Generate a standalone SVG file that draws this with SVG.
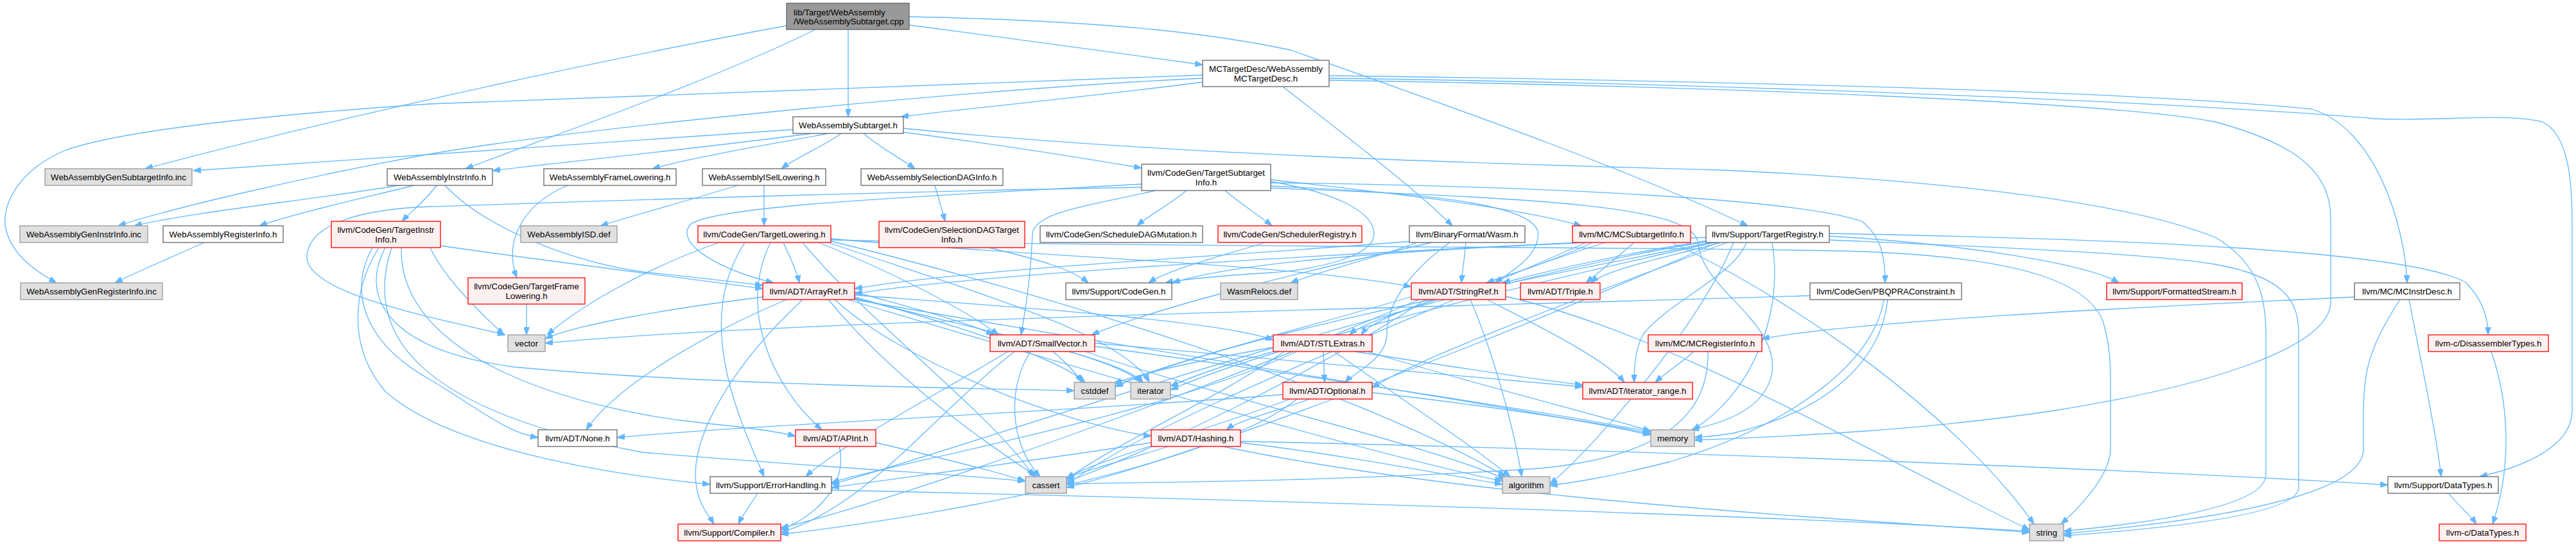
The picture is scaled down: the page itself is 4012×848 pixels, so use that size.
<svg xmlns="http://www.w3.org/2000/svg" width="4012" height="848" viewBox="0 0 4012 848">
<style>
.w{fill:#ffffff;stroke:#666666;stroke-width:1.3}
.r{fill:#fff0f0;stroke:#ff0000;stroke-width:1.3}
.g{fill:#e0e0e0;stroke:#999999;stroke-width:1.3}
.k{fill:#999999;stroke:#666666;stroke-width:1.3}
text{font-family:"Liberation Sans",Arial,Helvetica,sans-serif;font-size:13.33px;fill:#000000;text-anchor:middle}
text.s{text-anchor:start}
</style>
<defs>
<marker id="ah" viewBox="0 0 12 9" refX="12" refY="4.5" markerWidth="12" markerHeight="9" markerUnits="userSpaceOnUse" orient="auto"><path d="M0,0 L12,4.5 L0,9 z" fill="#63b8ff" stroke="#63b8ff" stroke-width="1"/></marker>
</defs>
<rect width="4012" height="848" fill="#ffffff"/>
<g id="connectors" fill="none" stroke="#63b8ff" stroke-width="1.3" marker-end="url(#ah)">
<path d="M1416,39 C1560,58 1730,81 1873,101"/>
<path d="M1321,46 L1321,182"/>
<path d="M1270,46 C1100,130 850,215 725,263"/>
<path d="M1225,40 C900,100 500,190 226,263"/>
<path d="M1416,26 C1750,33 1900,55 2010,78 C2300,180 2550,270 2722,352"/>
<path d="M1873,128 C1700,150 1500,170 1403,182"/>
<path d="M1873,117 C1300,140 900,150 670,162 C400,180 180,205 100,235 C20,270 0,330 10,360 C20,400 60,425 88,441"/>
<path d="M1873,122 C1500,140 900,200 670,240 C450,280 250,330 184,352"/>
<path d="M1998,135 C2080,200 2200,290 2262,352"/>
<path d="M2070,118 C2600,125 3300,140 3600,170 C3700,200 3745,350 3749,441"/>
<path d="M2070,122 C2700,130 3400,160 3700,185 C3800,190 3900,175 3960,190 C4000,210 4006,280 4006,350 L4006,640 C4006,700 3920,730 3862,743"/>
<path d="M2070,125 C2700,135 3300,160 3450,190 C3580,225 3630,270 3630,340 L3630,470 C3630,540 3450,600 3200,640 C3000,670 2800,680 2639,686"/>
<path d="M1235,202 C1000,220 700,240 301,266"/>
<path d="M1264,208 C1100,230 900,250 767,266"/>
<path d="M1290,208 C1200,225 1080,245 1016,263"/>
<path d="M1310,208 C1280,230 1240,245 1217,263"/>
<path d="M1345,208 C1370,230 1400,245 1425,263"/>
<path d="M1407,206 C1550,225 1680,245 1778,262"/>
<path d="M1407,200 C1800,240 2300,255 2680,265 C3000,280 3300,310 3450,370 C3520,410 3529,470 3529,520 L3529,740 C3529,790 3350,815 3214,828"/>
<path d="M620,289 C500,310 300,330 209,352"/>
<path d="M645,289 C560,310 450,335 404,352"/>
<path d="M680,289 C665,310 640,330 626,345"/>
<path d="M693,289 C760,360 900,410 1003,424 C1080,432 1150,440 1188,445"/>
<path d="M318,378 C270,400 210,425 179,441"/>
<path d="M884,289 C810,320 785,380 805,433"/>
<path d="M1149,289 C1080,310 990,335 935,352"/>
<path d="M1190,289 L1190,352"/>
<path d="M1456,289 C1462,310 1468,330 1472,345"/>
<path d="M1848,297 C1820,320 1790,335 1771,352"/>
<path d="M1908,297 C1935,320 1960,335 1981,352"/>
<path d="M1979,280 C2150,300 2350,320 2463,352"/>
<path d="M1979,285 C2400,290 2800,310 2900,345 C2930,370 2936,400 2936,441"/>
<path d="M1979,283 C2080,300 2140,330 2140,365 C2140,400 2050,420 1980,425 C1900,430 1840,435 1815,441"/>
<path d="M1979,290 C2200,300 2380,315 2395,360 C2400,395 2360,420 2328,441"/>
<path d="M1778,287 C1450,305 1110,320 1075,350 C1050,380 1120,420 1205,441"/>
<path d="M1778,292 C1300,300 900,315 670,322 C560,326 480,350 478,400 C476,460 700,500 787,522"/>
<path d="M1800,297 C1700,320 1610,330 1608,365 C1606,420 1600,470 1590,522"/>
<path d="M1979,293 C2400,310 2640,320 2645,380 C2650,450 2770,500 2760,580 C2750,640 2680,660 2634,670"/>
<path d="M686,383 C800,400 1000,425 1188,450"/>
<path d="M670,386 C690,430 740,480 785,522"/>
<path d="M580,386 C545,450 560,530 670,592 C750,640 790,675 838,682"/>
<path d="M590,386 C550,450 540,540 600,610 C700,700 950,740 1106,755"/>
<path d="M600,386 C560,460 600,545 800,572 C1100,600 1500,605 1673,609"/>
<path d="M610,386 C565,520 650,640 1000,705 C1300,730 1500,740 1597,750"/>
<path d="M625,386 C620,560 900,640 1100,660 C1180,668 1220,675 1239,680"/>
<path d="M820,474 L820,522"/>
<path d="M1120,378 C1000,420 900,480 852,522"/>
<path d="M1220,378 C1230,400 1240,420 1245,441"/>
<path d="M1275,378 C1380,420 1500,480 1555,522"/>
<path d="M1294,372 C1600,400 2000,410 2198,447"/>
<path d="M1200,378 C1150,480 1200,600 1280,670"/>
<path d="M1160,378 C1080,500 1150,650 1190,743"/>
<path d="M1294,376 C1600,450 2100,600 2345,743"/>
<path d="M1250,378 C1350,500 1550,650 1610,743"/>
<path d="M1290,378 C1500,450 1750,520 1790,596"/>
<path d="M1294,374 C1800,386 2600,384 2900,392 C3150,402 3250,440 3275,500 C3287,540 3287,570 3287,600 L3287,700 C3287,740 3240,790 3210,817"/>
<path d="M1540,386 C1620,405 1670,420 1695,441"/>
<path d="M1970,378 C1900,400 1820,420 1789,441"/>
<path d="M2207,378 C2150,400 2050,425 2010,441"/>
<path d="M2283,378 C2281,400 2278,420 2276,441"/>
<path d="M2200,376 C1900,400 1500,420 1331,450"/>
<path d="M2230,378 C2000,430 1800,480 1700,522"/>
<path d="M2258,378 C2200,420 2160,470 2160,520 C2160,560 2110,580 2095,596"/>
<path d="M2460,378 C2000,400 1500,430 1331,458"/>
<path d="M2500,378 C2430,400 2360,425 2315,441"/>
<path d="M2545,378 C2520,400 2490,425 2470,441"/>
<path d="M2480,378 C2350,440 2150,480 2120,522"/>
<path d="M2470,378 C2200,500 1800,650 1661,756"/>
<path d="M2604,378 C2800,470 3050,650 3168,817"/>
<path d="M2849,368 C3050,380 3250,410 3300,441"/>
<path d="M2849,364 C3300,372 3750,390 3840,440 C3870,470 3875,500 3875,522"/>
<path d="M2680,378 C2600,400 2500,420 2478,441"/>
<path d="M2660,375 C2500,400 2400,425 2340,441"/>
<path d="M2660,370 C2300,385 1950,400 1826,441"/>
<path d="M2720,378 C2700,430 2600,470 2560,520 C2548,540 2545,570 2545,596"/>
<path d="M2690,378 C2500,450 2200,560 2137,605"/>
<path d="M2657,377 C2200,450 1500,700 1295,755"/>
<path d="M2700,378 C2650,500 2500,680 2414,755"/>
<path d="M2675,378 C2400,500 1900,700 1661,760"/>
<path d="M2665,378 C2300,450 1900,530 1737,603"/>
<path d="M2670,378 C2300,460 1950,550 1823,608"/>
<path d="M2760,378 C2780,500 2720,620 2636,670"/>
<path d="M2849,374 C3100,385 3350,395 3450,412 C3560,432 3580,470 3580,520 L3580,760 C3580,800 3400,822 3214,835"/>
<path d="M3667,463 C3300,480 2900,500 2744,528"/>
<path d="M3752,467 C3770,560 3795,680 3802,743"/>
<path d="M3738,467 C3690,540 3681,580 3681,640 L3681,700 C3681,780 3400,815 3214,832"/>
<path d="M2638,548 C2620,565 2595,580 2578,596"/>
<path d="M2660,548 C2662,640 2600,710 2400,730 C2100,750 1800,752 1661,754"/>
<path d="M1188,463 C1050,480 900,505 849,528"/>
<path d="M1225,467 C1100,520 960,600 913,670"/>
<path d="M1250,467 C1150,560 1070,680 1085,760 C1090,790 1105,805 1112,817"/>
<path d="M1331,455 C1420,480 1500,500 1548,522"/>
<path d="M1331,460 C1600,480 1900,500 1983,530"/>
<path d="M1300,467 C1400,560 1650,660 1793,680"/>
<path d="M1320,467 C1600,550 2100,700 2340,750"/>
<path d="M1290,467 C1400,600 1550,700 1615,743"/>
<path d="M1331,463 C1500,510 1650,560 1690,596"/>
<path d="M1331,465 C1550,520 1750,560 1780,596"/>
<path d="M1331,467 C1800,550 2400,640 2571,678"/>
<path d="M1640,548 C1660,565 1675,580 1685,596"/>
<path d="M1665,548 C1720,565 1760,580 1778,596"/>
<path d="M1605,548 C1570,600 1570,690 1620,743"/>
<path d="M1580,548 C1450,650 1350,790 1216,830"/>
<path d="M1570,548 C1450,620 1300,700 1255,743"/>
<path d="M1690,548 C1900,620 2250,700 2345,748"/>
<path d="M1705,540 C2000,580 2400,640 2571,673"/>
<path d="M1705,535 C2000,560 2300,590 2465,603"/>
<path d="M2061,548 L2063,596"/>
<path d="M2078,548 C2180,620 2300,700 2352,743"/>
<path d="M2110,548 C2250,570 2380,590 2465,600"/>
<path d="M2130,548 C2300,600 2500,650 2571,672"/>
<path d="M2000,548 C1900,620 1720,700 1661,748"/>
<path d="M1990,540 C1880,560 1780,580 1735,598"/>
<path d="M1995,545 C1900,570 1850,590 1823,602"/>
<path d="M2020,548 C1800,650 1400,720 1295,752"/>
<path d="M2040,622 C1990,640 1930,655 1910,670"/>
<path d="M1998,615 C1700,640 1200,660 961,682"/>
<path d="M2020,622 C1900,720 1500,800 1216,833"/>
<path d="M2010,622 C1850,680 1700,720 1661,746"/>
<path d="M2137,612 C2300,630 2500,660 2571,676"/>
<path d="M2239,467 C2170,490 2120,505 2102,522"/>
<path d="M2316,467 C2400,510 2500,560 2530,596"/>
<path d="M2210,467 C1900,600 1400,780 1216,823"/>
<path d="M2290,467 C2330,560 2360,680 2370,743"/>
<path d="M2220,467 C2050,580 1800,700 1661,751"/>
<path d="M2200,462 C2000,520 1800,570 1737,602"/>
<path d="M2345,462 C2600,520 2900,700 3161,826"/>
<path d="M1823,695 C1760,715 1700,730 1661,745"/>
<path d="M1793,690 C1600,720 1400,745 1295,760"/>
<path d="M1932,690 C2100,710 2250,740 2340,755"/>
<path d="M1932,688 C2500,700 3300,730 3719,756"/>
<path d="M1900,695 C2300,780 2900,810 3161,830"/>
<path d="M1307,695 C1320,750 1280,800 1216,826"/>
<path d="M1364,690 C1450,710 1550,735 1597,750"/>
<path d="M1180,769 C1170,785 1158,800 1150,817"/>
<path d="M1295,764 C1800,775 2700,800 3161,828"/>
<path d="M3814,769 C3825,785 3845,800 3857,817"/>
<path d="M3880,548 C3905,620 3915,720 3882,817"/>
<path d="M2819,461 C2200,480 1200,500 849,535"/>
<path d="M2934,467 C2920,560 2800,660 2600,720 C2500,745 2450,752 2414,757"/>
<path d="M2940,467 C2930,560 2850,640 2700,675 C2670,680 2650,681 2639,682"/>
</g>
<g id="n0"><rect class="k" x="1225" y="5" width="191" height="41"/><text class="s" x="1236" y="23.5">lib/Target/WebAssembly</text><text class="s" x="1236" y="38">/WebAssemblySubtarget.cpp</text></g>
<g id="n1"><rect class="w" x="1873" y="94" width="197" height="41"/><text x="1971.5" y="112">MCTargetDesc/WebAssembly</text><text x="1971.5" y="127">MCTargetDesc.h</text></g>
<g id="n2"><rect class="w" x="1235" y="182" width="172" height="26"/><text x="1321" y="199.7">WebAssemblySubtarget.h</text></g>
<g id="n3"><rect class="g" x="70" y="263" width="229" height="26"/><text x="184.5" y="280.7">WebAssemblyGenSubtargetInfo.inc</text></g>
<g id="n4"><rect class="w" x="603" y="263" width="164" height="26"/><text x="685" y="280.7">WebAssemblyInstrInfo.h</text></g>
<g id="n5"><rect class="w" x="847" y="263" width="206" height="26"/><text x="950" y="280.7">WebAssemblyFrameLowering.h</text></g>
<g id="n6"><rect class="w" x="1094" y="263" width="192" height="26"/><text x="1190" y="280.7">WebAssemblyISelLowering.h</text></g>
<g id="n7"><rect class="w" x="1341" y="263" width="221" height="26"/><text x="1451.5" y="280.7">WebAssemblySelectionDAGInfo.h</text></g>
<g id="n8"><rect class="w" x="1778" y="256" width="201" height="41"/><text x="1878.5" y="274">llvm/CodeGen/TargetSubtarget</text><text x="1878.5" y="289">Info.h</text></g>
<g id="n9"><rect class="g" x="31" y="352" width="199" height="26"/><text x="130.5" y="369.7">WebAssemblyGenInstrInfo.inc</text></g>
<g id="n10"><rect class="w" x="254" y="352" width="187" height="26"/><text x="347.5" y="369.7">WebAssemblyRegisterInfo.h</text></g>
<g id="n11"><rect class="r" x="516" y="345" width="170" height="41"/><text x="601" y="363">llvm/CodeGen/TargetInstr</text><text x="601" y="378">Info.h</text></g>
<g id="n12"><rect class="g" x="811" y="352" width="150" height="26"/><text x="886" y="369.7">WebAssemblyISD.def</text></g>
<g id="n13"><rect class="r" x="1087" y="352" width="207" height="26"/><text x="1190.5" y="369.7">llvm/CodeGen/TargetLowering.h</text></g>
<g id="n14"><rect class="r" x="1369" y="345" width="227" height="41"/><text x="1482.5" y="363">llvm/CodeGen/SelectionDAGTarget</text><text x="1482.5" y="378">Info.h</text></g>
<g id="n15"><rect class="w" x="1620" y="352" width="253" height="26"/><text x="1746.5" y="369.7">llvm/CodeGen/ScheduleDAGMutation.h</text></g>
<g id="n16"><rect class="r" x="1897" y="352" width="224" height="26"/><text x="2009" y="369.7">llvm/CodeGen/SchedulerRegistry.h</text></g>
<g id="n17"><rect class="w" x="2195" y="352" width="180" height="26"/><text x="2285" y="369.7">llvm/BinaryFormat/Wasm.h</text></g>
<g id="n18"><rect class="r" x="2449" y="352" width="184" height="26"/><text x="2541" y="369.7">llvm/MC/MCSubtargetInfo.h</text></g>
<g id="n19"><rect class="w" x="2657" y="352" width="192" height="26"/><text x="2753" y="369.7">llvm/Support/TargetRegistry.h</text></g>
<g id="n20"><rect class="g" x="32" y="441" width="221" height="26"/><text x="142.5" y="458.7">WebAssemblyGenRegisterInfo.inc</text></g>
<g id="n21"><rect class="r" x="729" y="433" width="182" height="41"/><text x="820" y="451">llvm/CodeGen/TargetFrame</text><text x="820" y="466">Lowering.h</text></g>
<g id="n22"><rect class="r" x="1188" y="441" width="143" height="26"/><text x="1259.5" y="458.7">llvm/ADT/ArrayRef.h</text></g>
<g id="n23"><rect class="w" x="1660" y="441" width="165" height="26"/><text x="1742.5" y="458.7">llvm/Support/CodeGen.h</text></g>
<g id="n24"><rect class="g" x="1901" y="441" width="120" height="26"/><text x="1961" y="458.7">WasmRelocs.def</text></g>
<g id="n25"><rect class="r" x="2198" y="441" width="147" height="26"/><text x="2271.5" y="458.7">llvm/ADT/StringRef.h</text></g>
<g id="n26"><rect class="r" x="2368" y="441" width="124" height="26"/><text x="2430" y="458.7">llvm/ADT/Triple.h</text></g>
<g id="n27"><rect class="w" x="2819" y="441" width="236" height="26"/><text x="2937" y="458.7">llvm/CodeGen/PBQPRAConstraint.h</text></g>
<g id="n28"><rect class="r" x="3281" y="441" width="211" height="26"/><text x="3386.5" y="458.7">llvm/Support/FormattedStream.h</text></g>
<g id="n29"><rect class="w" x="3667" y="441" width="164" height="26"/><text x="3749" y="458.7">llvm/MC/MCInstrDesc.h</text></g>
<g id="n30"><rect class="g" x="791" y="522" width="58" height="26"/><text x="820" y="539.7">vector</text></g>
<g id="n31"><rect class="r" x="1542" y="522" width="163" height="26"/><text x="1623.5" y="539.7">llvm/ADT/SmallVector.h</text></g>
<g id="n32"><rect class="r" x="1983" y="522" width="154" height="26"/><text x="2060" y="539.7">llvm/ADT/STLExtras.h</text></g>
<g id="n33"><rect class="r" x="2567" y="522" width="177" height="26"/><text x="2655.5" y="539.7">llvm/MC/MCRegisterInfo.h</text></g>
<g id="n34"><rect class="r" x="3782" y="522" width="187" height="26"/><text x="3875.5" y="539.7">llvm-c/DisassemblerTypes.h</text></g>
<g id="n35"><rect class="g" x="1673" y="596" width="64" height="26"/><text x="1705" y="613.7">cstddef</text></g>
<g id="n36"><rect class="g" x="1761" y="596" width="62" height="26"/><text x="1792" y="613.7">iterator</text></g>
<g id="n37"><rect class="r" x="1998" y="596" width="139" height="26"/><text x="2067.5" y="613.7">llvm/ADT/Optional.h</text></g>
<g id="n38"><rect class="r" x="2465" y="596" width="171" height="26"/><text x="2550.5" y="613.7">llvm/ADT/iterator_range.h</text></g>
<g id="n39"><rect class="w" x="838" y="670" width="123" height="26"/><text x="899.5" y="687.7">llvm/ADT/None.h</text></g>
<g id="n40"><rect class="r" x="1239" y="670" width="125" height="26"/><text x="1301.5" y="687.7">llvm/ADT/APInt.h</text></g>
<g id="n41"><rect class="r" x="1793" y="670" width="139" height="26"/><text x="1862.5" y="687.7">llvm/ADT/Hashing.h</text></g>
<g id="n42"><rect class="g" x="2571" y="670" width="68" height="26"/><text x="2605" y="687.7">memory</text></g>
<g id="n43"><rect class="w" x="1106" y="743" width="189" height="26"/><text x="1200.5" y="760.7">llvm/Support/ErrorHandling.h</text></g>
<g id="n44"><rect class="g" x="1597" y="743" width="64" height="26"/><text x="1629" y="760.7">cassert</text></g>
<g id="n45"><rect class="g" x="2340" y="743" width="74" height="26"/><text x="2377" y="760.7">algorithm</text></g>
<g id="n46"><rect class="w" x="3719" y="743" width="172" height="26"/><text x="3805" y="760.7">llvm/Support/DataTypes.h</text></g>
<g id="n47"><rect class="r" x="1056" y="817" width="160" height="26"/><text x="1136" y="834.7">llvm/Support/Compiler.h</text></g>
<g id="n48"><rect class="g" x="3161" y="817" width="53" height="26"/><text x="3187.5" y="834.7">string</text></g>
<g id="n49"><rect class="r" x="3799" y="817" width="135" height="26"/><text x="3866.5" y="834.7">llvm-c/DataTypes.h</text></g>
</svg>
